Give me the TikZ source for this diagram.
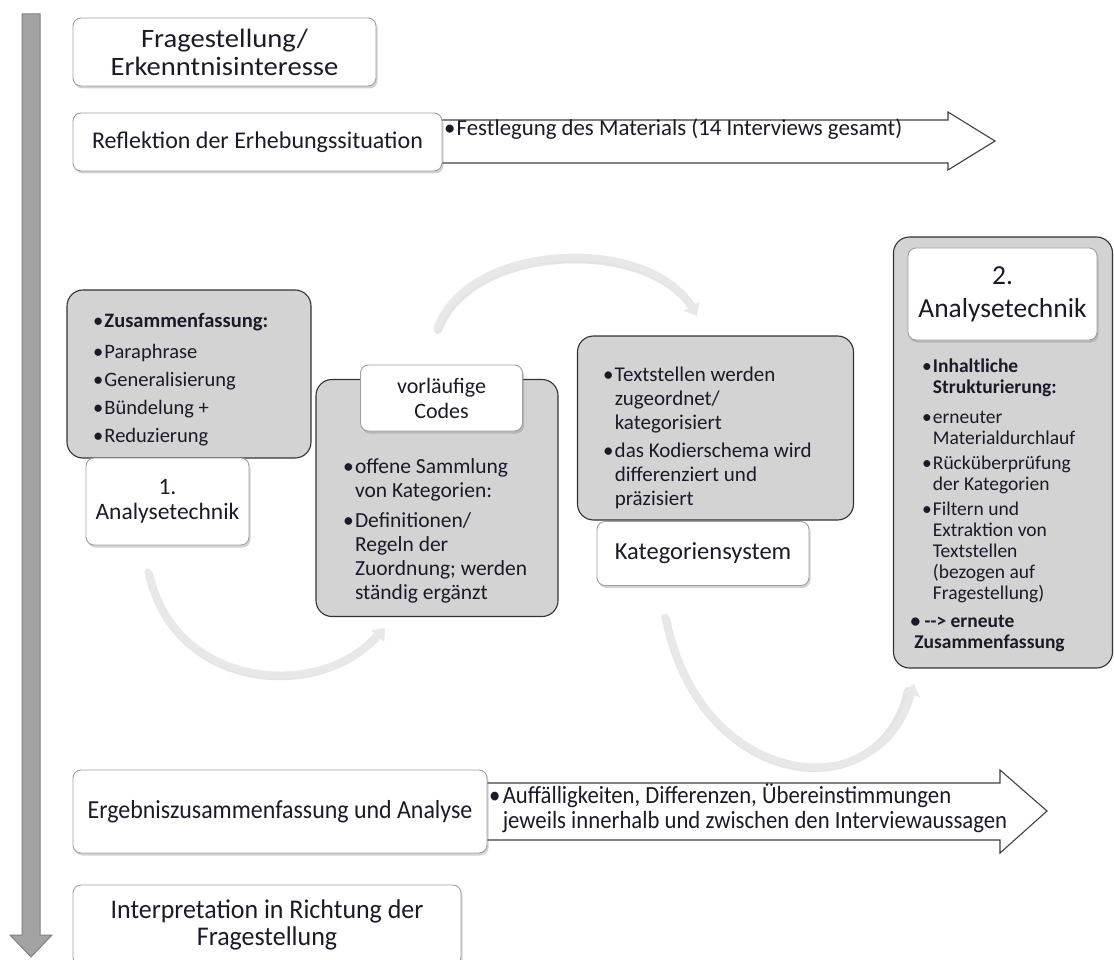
\documentclass[tikz,border=0pt]{standalone}
\usepackage{fontspec}
\setmainfont{Carlito}
\newfontfamily\cond[FakeStretch=0.92]{Carlito}
\newfontfamily\condb[FakeStretch=0.96]{Carlito}
\newfontfamily\wider[FakeStretch=1.08]{Carlito}
\usetikzlibrary{shadows,arrows.meta,calc}
\definecolor{txt}{HTML}{1A1A2A}
\definecolor{gfill}{HTML}{D3D3D3}
\definecolor{barfill}{HTML}{A3A3A3}
\definecolor{barline}{HTML}{808080}
\newcommand\bi[1]{\makebox[0.55em][l]{\textbullet}#1}
\newcommand\ci[1]{\hspace*{0.55em}#1}
\tikzset{
  wbox/.style={draw=gray!75, fill=white, rounded corners=8pt, line width=0.9pt,
    drop shadow={opacity=0.35,shadow xshift=1.5pt,shadow yshift=-2.5pt},
    align=center, text=txt, inner sep=2pt},
  gbox/.style={draw=black!80, fill=gfill, rounded corners=16pt, line width=1.1pt, inner sep=0pt},
  gtext/.style={anchor=north west, align=left, text=txt, inner sep=0pt},
  blockarrow/.style={draw=black!75, fill=white, line width=1.1pt},
  arc/.style={line width=7pt, draw=gray!18, line cap=round, -{Triangle[width=17pt,length=11pt]}},
  arcshadow/.style={line width=8pt, draw=gray!35, line cap=round, opacity=0.6},
}
\begin{document}
\begin{tikzpicture}[x=1pt,y=-1pt]
\useasboundingbox (0,0) rectangle (1114,960);
\fill[white] (0,0) rectangle (1114,960);

% vertical process arrow
\draw[draw=barline, fill=barfill, line width=1pt]
  (22,14) -- (40,14) -- (40,935) -- (52,935) -- (31,957) -- (10,935) -- (22,935) -- cycle;

% top block arrow
\draw[blockarrow] (430,120) -- (948,120) -- (948,112) -- (995,141) -- (948,170) -- (948,163) -- (430,163) -- cycle;
\node[gtext, font=\fontsize{22.8}{26}\selectfont] (fest) at (444,119) {\bi{Festlegung des Materials (14 Interviews gesamt)}};

% bottom block arrow
\draw[blockarrow] (475,783) -- (1000,783) -- (1000,770) -- (1047,811) -- (1000,853) -- (1000,840) -- (475,840) -- cycle;
\node[gtext, font=\cond\fontsize{24.7}{25.5}\selectfont] (auff) at (489,783)
  {\bi{Auffälligkeiten, Differenzen, Übereinstimmungen}\\\ci{jeweils innerhalb und zwischen den Interviewaussagen}};

% white boxes at top
\node[wbox, minimum width=303pt, minimum height=68pt, font=\wider\fontsize{26.5}{28}\selectfont] (frag) at (224.5,52) {Fragestellung/\\Erkenntnisinteresse};
\node[wbox, minimum width=369pt, minimum height=58pt, font=\fontsize{24}{26}\selectfont] (refl) at (257.5,142) {Reflektion der Erhebungssituation};

% arcs (drawn beneath boxes)
\coordinate (l0) at (148,572); \coordinate (l1) at (385,628);
\coordinate (t0) at (437,328); \coordinate (t1) at (697,316);
\coordinate (r0) at (665,617); \coordinate (r1) at (914,684);
\draw[arcshadow] ($(l0)+(1,2)$) .. controls (176,692) and (321,702) .. ($(l1)+(-6,6)$);
\draw[arc] (l0) .. controls (175,690) and (320,700) .. (l1);
\draw[arcshadow] ($(t0)+(1,2)$) .. controls (471,242) and (651,237) .. ($(t1)+(-3,-6)$);
\draw[arc] (t0) .. controls (470,240) and (650,235) .. (t1);
\draw[arcshadow] ($(r0)+(1,2)$) .. controls (701,792) and (881,812) .. ($(r1)+(-6,7)$);
\draw[arc] (r0) .. controls (700,790) and (880,810) .. (r1);

% group 1
\node[gbox, minimum width=244pt, minimum height=168pt] (g1) at (189,374) {};
\node[gtext, font=\fontsize{20.5}{28}\selectfont] (g1t) at (93,313)
  {\bi{\textbf{Zusammenfassung:}}\\[3pt]\bi{Paraphrase}\\\bi{Generalisierung}\\\bi{Bündelung +}\\\bi{Reduzierung}};
\node[wbox, minimum width=163pt, minimum height=87pt, font=\fontsize{23.5}{25}\selectfont] (a1) at (167.5,501.5) {1.\\Analysetechnik};

% group 2
\node[gbox, minimum width=242pt, minimum height=237pt] (g2) at (437,498) {};
\node[wbox, minimum width=162pt, minimum height=66pt, font=\fontsize{22}{25}\selectfont] (vc) at (441.5,398) {vorläufige\\Codes};
\node[gtext, font=\fontsize{21.5}{24}\selectfont] (g2t) at (343,458)
  {\bi{offene Sammlung}\\\ci{von Kategorien:}\\[6pt]\bi{Definitionen/}\\\ci{Regeln der}\\\ci{Zuordnung; werden}\\\ci{ständig ergänzt}};

% group 3
\node[gbox, minimum width=276pt, minimum height=184pt] (g3) at (715.5,428) {};
\node[gtext, font=\fontsize{21}{24}\selectfont] (g3t) at (603,367)
  {\bi{Textstellen werden}\\\ci{zugeordnet/}\\\ci{kategorisiert}\\[4pt]\bi{das Kodierschema wird}\\\ci{differenziert und}\\\ci{präzisiert}};
\node[wbox, minimum width=212pt, minimum height=64pt, font=\fontsize{24.5}{26}\selectfont] (ks) at (703,553.5) {Kategoriensystem};

% group 4
\node[gbox, minimum width=219pt, minimum height=431pt] (g4) at (1003,452.5) {};
\node[wbox, minimum width=189pt, minimum height=92pt, font=\fontsize{27.5}{33}\selectfont] (a2) at (1002.5,294) {2.\\Analysetechnik};
\node[gtext, font=\fontsize{19.5}{21}\selectfont] (g4t) at (922,359)
  {\bi{\textbf{Inhaltliche}}\\\ci{\textbf{Strukturierung:}}\\[9pt]\bi{erneuter}\\\ci{Materialdurchlauf}\\[4pt]\bi{Rücküberprüfung}\\\ci{der Kategorien}\\[4pt]\bi{Filtern und}\\\ci{Extraktion\ von}\\\ci{Textstellen}\\\ci{(bezogen auf}\\\ci{Fragestellung)}\\[7pt]\hspace*{-0.6em}\textbf{\textbullet\ {-}{-}> erneute}\\\hspace*{-0.4em}\textbf{Zusammenfassung}};

% bottom white boxes
\node[wbox, minimum width=414pt, minimum height=83pt, font=\cond\fontsize{26}{27}\selectfont] (erg) at (280,811.5) {Ergebniszusammenfassung und Analyse};
\node[wbox, minimum width=388pt, minimum height=80pt, font=\condb\fontsize{27}{27.5}\selectfont] (int) at (267,925) {Interpretation in Richtung der\\Fragestellung};
\end{tikzpicture}
\end{document}
